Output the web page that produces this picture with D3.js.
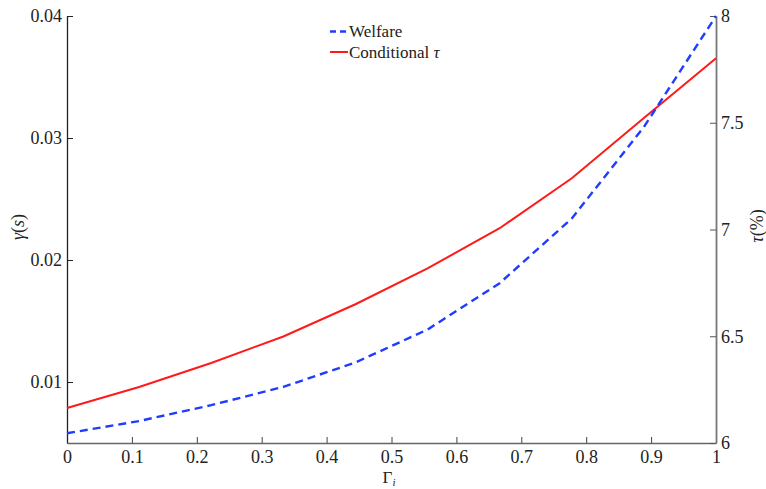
<!DOCTYPE html>
<html>
<head>
<meta charset="utf-8">
<script src="https://cdn.jsdelivr.net/npm/d3@7"></script>
</head>
<body style="margin:0;background:#fff">
<svg id="chart" width="766" height="489"></svg>
<script>
// Heterogeneity parameter Γ_i on a grid of ten points
const gammaGrid = [0, 1/9, 2/9, 3/9, 4/9, 5/9, 6/9, 7/9, 8/9, 1];
// Welfare γ(s), left axis
const welfare = [0.0058, 0.0068, 0.0081, 0.0096, 0.0116, 0.0143, 0.0181, 0.0234, 0.0309, 0.0400];
// Conditional τ in percent, right axis
const condTau = [6.164, 6.262, 6.375, 6.499, 6.650, 6.818, 7.006, 7.240, 7.522, 7.802];

const xTicks = [0, 0.1, 0.2, 0.3, 0.4, 0.5, 0.6, 0.7, 0.8, 0.9, 1];
const leftTicks = [0.01, 0.02, 0.03, 0.04];
const rightTicks = [6, 6.5, 7, 7.5, 8];

const serif = "Liberation Serif";
const svg = d3.select("#chart");
const m = { left: 67, right: 716, top: 16, bottom: 443 };

const x = d3.scaleLinear().domain([0, 1]).range([m.left, m.right]);
const yL = d3.scaleLinear().domain([0.005, 0.04]).range([m.bottom, m.top]);
const yR = d3.scaleLinear().domain([6, 8]).range([m.bottom, m.top]);

const tickFont = 18;

function styleTicks(g) {
  g.attr("font-family", serif);
  g.selectAll("text")
    .attr("font-family", serif)
    .attr("font-size", tickFont)
    .attr("fill", "#222");
}

// Bottom axis: ticks pointing into the plot
const xAxis = svg.append("g")
  .attr("transform", `translate(0,${m.bottom})`)
  .call(d3.axisBottom(x).tickValues(xTicks).tickSizeInner(-6).tickSizeOuter(0)
    .tickPadding(7).tickFormat(d => String(+d.toFixed(1))));
xAxis.select(".domain").attr("stroke", "#666").attr("stroke-width", 1.3);
xAxis.selectAll(".tick line").attr("stroke", "#444");
styleTicks(xAxis);

// Left axis
const lAxis = svg.append("g")
  .attr("transform", `translate(${m.left},0)`)
  .call(d3.axisLeft(yL).tickValues(leftTicks).tickSizeInner(-6).tickSizeOuter(0)
    .tickPadding(5).tickFormat(d3.format(".2f")));
lAxis.select(".domain").attr("stroke", "#222").attr("stroke-width", 1.3);
lAxis.selectAll(".tick line").attr("stroke", "#222");
styleTicks(lAxis);

// Right axis
const rAxis = svg.append("g")
  .attr("transform", `translate(${m.right},0)`)
  .call(d3.axisRight(yR).tickValues(rightTicks).tickSizeInner(-6).tickSizeOuter(0)
    .tickPadding(5).tickFormat(d => String(d)));
rAxis.select(".domain").attr("stroke", "#777").attr("stroke-width", 1.8);
rAxis.selectAll(".tick line").attr("stroke", "#555");
styleTicks(rAxis);

// Series lines
const lineL = d3.line().x((d, i) => x(gammaGrid[i])).y(d => yL(d));
const lineR = d3.line().x((d, i) => x(gammaGrid[i])).y(d => yR(d));

svg.append("path").datum(condTau)
  .attr("d", lineR).attr("fill", "none")
  .attr("stroke", "#ff1a1a").attr("stroke-width", 2);

svg.append("path").datum(welfare)
  .attr("d", lineL).attr("fill", "none")
  .attr("stroke", "#1f3cff").attr("stroke-width", 2.4)
  .attr("stroke-dasharray", "8,5");

// Axis titles
const yLab = svg.append("text")
  .attr("transform", `translate(24,227) rotate(-90)`)
  .attr("font-family", serif)
  .attr("text-anchor", "middle").attr("font-size", 18).attr("fill", "#222");
yLab.append("tspan").attr("font-family", serif).attr("font-style", "italic").text("γ");
yLab.append("tspan").attr("font-family", serif).text("(");
yLab.append("tspan").attr("font-family", serif).attr("font-style", "italic").text("s");
yLab.append("tspan").attr("font-family", serif).text(")");

const rLab = svg.append("text")
  .attr("transform", `translate(763,226) rotate(-90)`)
  .attr("font-family", serif)
  .attr("text-anchor", "middle").attr("font-size", 18).attr("fill", "#222");
rLab.append("tspan").attr("font-family", serif).attr("font-style", "italic").text("τ");
rLab.append("tspan").attr("font-family", serif).text("(%)");

const xLab = svg.append("text")
  .attr("x", 389).attr("y", 483)
  .attr("font-family", serif)
  .attr("text-anchor", "middle").attr("font-size", 17).attr("fill", "#222");
xLab.append("tspan").attr("font-family", serif).text("Γ");
xLab.append("tspan").attr("font-family", serif).attr("font-style", "italic")
  .attr("font-size", 11).attr("dy", 3).text("i");

// Legend
const legend = svg.append("g").attr("font-family", serif);
const legendItems = [
  { label: "Welfare", color: "#1f3cff", dash: "6,4", width: 2.4, italicTail: null },
  { label: "Conditional ", color: "#ff1a1a", dash: null, width: 2, italicTail: "τ" }
];
legendItems.forEach((it, i) => {
  const yy = 31.5 + i * 20.5;
  legend.append("line")
    .attr("x1", 330).attr("x2", 348).attr("y1", yy).attr("y2", yy)
    .attr("stroke", it.color).attr("stroke-width", it.width)
    .attr("stroke-dasharray", it.dash);
  const t = legend.append("text")
    .attr("x", 349).attr("y", yy + 5.5)
    .attr("font-family", serif).attr("font-size", 17).attr("fill", "#222");
  t.append("tspan").attr("font-family", serif).text(it.label);
  if (it.italicTail) t.append("tspan").attr("font-family", serif).attr("font-style", "italic").text(it.italicTail);
});
</script>
</body>
</html>
